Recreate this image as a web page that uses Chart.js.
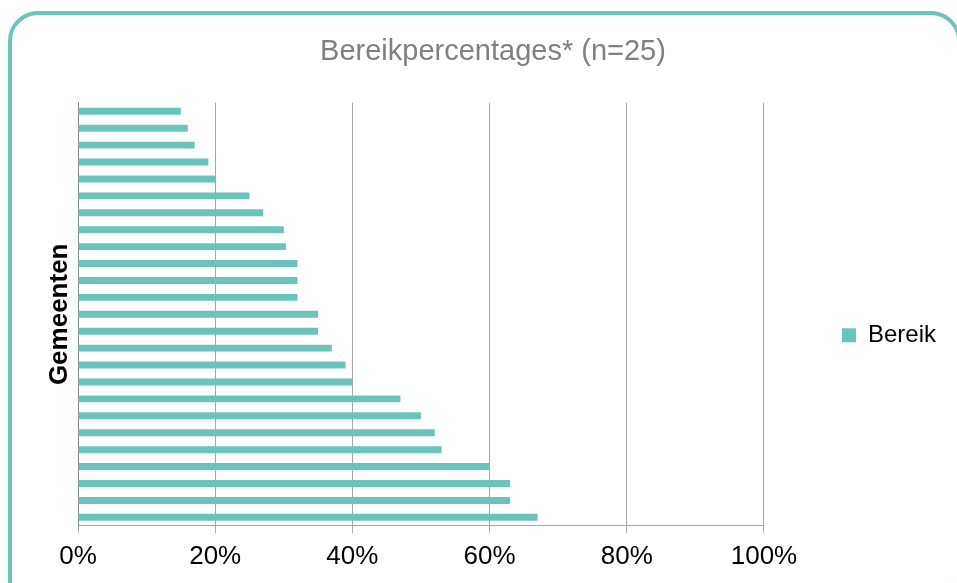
<!DOCTYPE html>
<html>
<head>
<meta charset="utf-8">
<script src="https://cdn.jsdelivr.net/npm/chart.js@4"></script>
<style>
  html, body { margin: 0; padding: 0; background: #fff; overflow: hidden; }
  #wrap { position: relative; width: 957px; height: 583px; }
  #frame {
    position: absolute; left: 8px; top: 11px; width: 953px; height: 600px;
    box-sizing: border-box; border: 4px solid #6cc5bb; border-radius: 30px;
  }
  #chart { position: absolute; left: 0; top: 0; }
</style>
</head>
<body>
<div id="wrap">
  <div id="frame"></div>
  <canvas id="chart" width="957" height="583"></canvas>
</div>
<script>
// one bar per gemeente, top to bottom (names not shown in the original)
const gemeenten = Array.from({ length: 25 }, (_, i) => 'Gemeente ' + (i + 1));
const bereik = [15, 16, 17, 19, 20, 25, 27, 30, 30.3, 32, 32, 32, 35, 35, 37, 39, 40, 47, 50, 52, 53, 60, 63, 63, 67];
const xTicks = [0, 20, 40, 60, 80, 100];

const teal = '#6bc4ba';
const font = 'Arial, "Liberation Sans", sans-serif';

new Chart(document.getElementById('chart'), {
  type: 'bar',
  data: {
    labels: gemeenten,
    datasets: [{
      label: 'Bereik',
      data: bereik,
      backgroundColor: teal,
      borderWidth: 0,
      barPercentage: 0.41,
      categoryPercentage: 1
    }]
  },
  options: {
    indexAxis: 'y',
    responsive: false,
    animation: false,
    layout: { padding: { left: 40, right: 11, top: 0, bottom: 3 } },
    scales: {
      x: {
        min: 0,
        max: 100,
        afterBuildTicks: (scale) => { scale.ticks = xTicks.map((v) => ({ value: v })); },
        ticks: {
          callback: (v) => v + '%',
          color: '#000',
          font: { family: font, size: 26 },
          padding: 8,
          maxRotation: 0
        },
        grid: { color: '#a6a6a6', lineWidth: 1, tickLength: 7 },
        border: { color: '#a6a6a6' }
      },
      y: {
        ticks: { display: false },
        grid: { display: false },
        border: { color: '#868686' },
        title: {
          display: true,
          text: 'Gemeenten',
          color: '#000',
          font: { family: font, size: 26, weight: 'bold' },
          padding: { top: 4, bottom: 4 }
        },
        afterFit: (scale) => { scale.width = 38; }
      }
    },
    plugins: {
      title: {
        display: true,
        text: 'Bereikpercentages* (n=25)',
        color: '#808080',
        font: { family: font, size: 29, weight: 'normal' },
        padding: { top: 35, bottom: 33 }
      },
      legend: {
        position: 'right',
        fullSize: false,
        // empty legend title only pushes the item down a bit
        title: { display: true, text: ' ', font: { size: 30 }, padding: 3 },
        labels: {
          boxWidth: 14,
          boxHeight: 14,
          padding: 78,
          color: '#000',
          font: { family: font, size: 24 }
        }
      },
      tooltip: { enabled: false }
    }
  }
});
</script>
</body>
</html>
